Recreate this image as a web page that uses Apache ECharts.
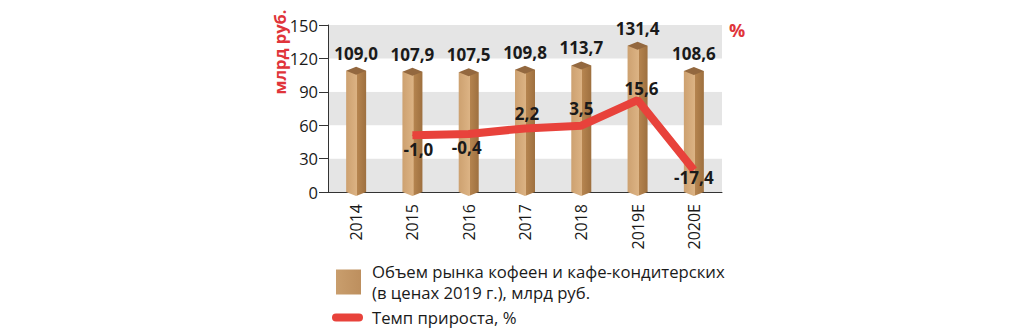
<!DOCTYPE html>
<html><head><meta charset="utf-8">
<script src="https://cdn.jsdelivr.net/npm/echarts@6/dist/echarts.min.js"></script>
<style>html,body{margin:0;padding:0;background:#fff}#c{width:1024px;height:336px}</style>
</head><body><div id="c"></div>
<script>
const categories = ['2014','2015','2016','2017','2018','2019E','2020E'];
const marketVolume = [109.0, 107.9, 107.5, 109.8, 113.7, 131.4, 108.6];
const growthRate = [null, -1.0, -0.4, 2.2, 3.5, 15.6, -17.4];
const leftTicks = [0, 30, 60, 90, 120, 150];
const barName = 'Объем рынка кофеен и кафе-кондитерских\n(в ценах 2019 г.), млрд руб.';
const lineName = 'Темп прироста, %';
const leftUnit = 'млрд руб.';
const rightUnit = '%';

const FONT = '"Open Sans", "Noto Sans", sans-serif';
const RED = '#e8423b';
const fmt = v => v.toFixed(1).replace('.', ',');
const barGrad = {type:'linear',x:0,y:0,x2:1,y2:0,colorStops:[
  {offset:0,color:'#cda170'},{offset:0.55,color:'#dcb384'},
  {offset:0.56,color:'#b5844f'},{offset:1,color:'#9e703f'}]};
const iconGrad = {type:'linear',x:0,y:0,x2:1,y2:0,colorStops:[
  {offset:0,color:'#c99e6d'},{offset:1,color:'#bd8f5e'}]};
const labelPos = ['bottom','bottom','bottom','top','top','top','bottom'];
const labelOff = [[0,0],[6,0],[-2,0],[2,-1],[0,-3],[4,2],[0,-6]];

const chart = echarts.init(document.getElementById('c'), null, {renderer:'svg'});
chart.setOption({
  animation:false,
  grid:{left:328,right:302,top:25,bottom:144},
  legend:[
    {data:[{name:barName,itemStyle:{color:iconGrad}}],left:331,top:256,itemWidth:25,itemHeight:25,icon:'rect',
     textStyle:{fontFamily:FONT,fontSize:16.7,lineHeight:21,color:'#1a1a1a',padding:[0,0,0,6]}},
    {data:[{name:lineName,icon:'path://M4,0 L27,0 A4,4 0 0 1 27,8 L4,8 A4,4 0 0 1 4,0 Z',itemStyle:{color:RED}}],
     left:327,top:304,itemWidth:31,itemHeight:8,
     textStyle:{fontFamily:FONT,fontSize:16.7,color:'#1a1a1a',padding:[0,0,0,4]}}
  ],
  xAxis:{type:'category',data:categories,
    axisLine:{lineStyle:{color:'#333',width:1}},
    axisTick:{length:6,lineStyle:{color:'#333'}},
    axisLabel:{rotate:90,fontFamily:FONT,fontSize:16,color:'#1a1a1a',margin:12}},
  yAxis:[
    {type:'value',min:leftTicks[0],max:leftTicks[leftTicks.length-1],interval:30,
     axisLine:{show:true,lineStyle:{color:'#333'}},
     axisTick:{show:true,length:9,lineStyle:{color:'#333'}},
     axisLabel:{fontFamily:FONT,fontSize:16.5,color:'#1a1a1a',margin:10,verticalAlign:'middle',padding:[0,0,8,0]},
     splitLine:{show:false},
     splitArea:{show:true,areaStyle:{color:['#e5e5e5','#ffffff']}}},
    {type:'value',min:-27.8,max:51,show:false}
  ],
  graphic:[
    {type:'text',x:279,y:52,rotation:Math.PI/2,style:{text:leftUnit,fill:'#e0343a',font:'bold 16.5px '+FONT,textAlign:'center',textVerticalAlign:'middle'}},
    {type:'text',x:737,y:30,style:{text:rightUnit,fill:'#e0343a',font:'bold 18px '+FONT,textAlign:'center',textVerticalAlign:'middle'}}
  ],
  series:[
    {name:barName,type:'bar',data:marketVolume,barWidth:20,z:3,
     itemStyle:{color:barGrad},
     label:{show:true,position:'top',distance:9,formatter:p=>fmt(p.value),
       fontFamily:FONT,fontWeight:'bold',fontSize:17,color:'#1a1a1a'}},
    {type:'pictorialBar',data:marketVolume,symbol:'diamond',symbolSize:[20,8],
     symbolPosition:'end',symbolOffset:[0,'-50%'],z:4,itemStyle:{color:'#93683f'}},
    {type:'pictorialBar',data:marketVolume,symbol:'diamond',symbolSize:[20,8],
     symbolPosition:'start',symbolOffset:[0,'50%'],z:2,itemStyle:{color:barGrad}},
    {name:lineName,type:'line',yAxisIndex:1,z:5,
     data:growthRate.map((v,i)=>({value:v,label:{position:labelPos[i],offset:labelOff[i]}})),
     symbol:'circle',symbolSize:1,showSymbol:true,lineStyle:{color:RED,width:8},itemStyle:{color:RED},
     label:{show:true,distance:5,formatter:p=>p.value==null?'':fmt(p.value),
       fontFamily:FONT,fontWeight:'bold',fontSize:17,color:'#1a1a1a'}}
  ]
});
</script></body></html>
